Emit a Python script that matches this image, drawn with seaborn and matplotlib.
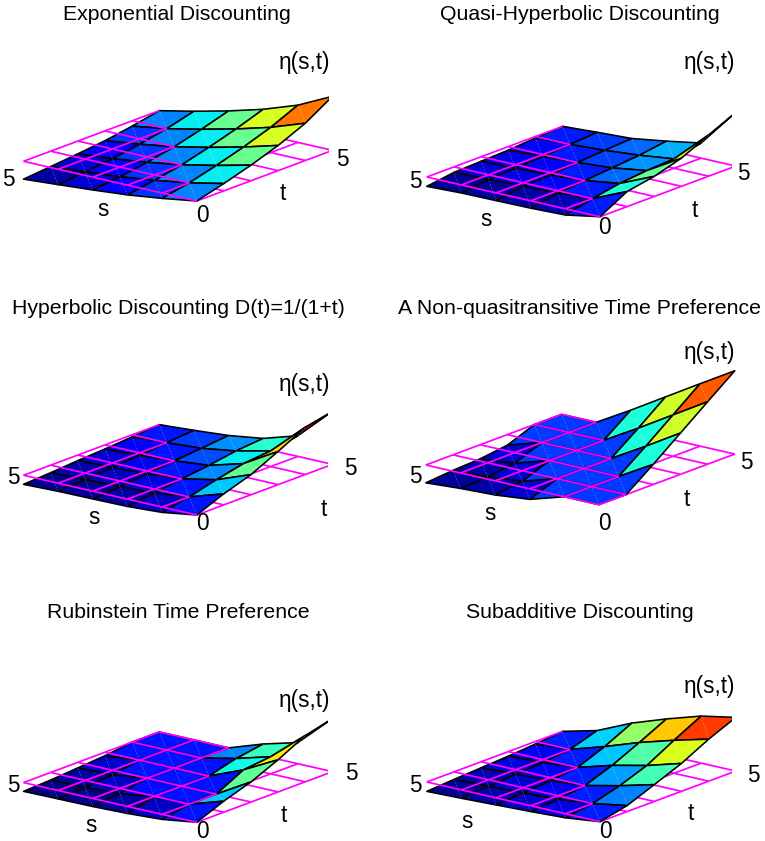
import numpy as np
import seaborn as sns
import matplotlib.pyplot as plt
from matplotlib.colors import Normalize
from mpl_toolkits.mplot3d import proj3d
from mpl_toolkits.mplot3d.art3d import Line3DCollection

sns.set_theme(style='white')
plt.rcParams['font.family'] = ['Liberation Sans', 'DejaVu Sans']

grid_vals = [0, 1, 2, 3, 4, 5]

# rows are s = 0..5, columns are t = 0..5
exponential = [[0, 7.3, 15.5, 25, 37, 53.7],
               [-5.3, 0, 7.3, 15.5, 25, 37],
               [-9.7, -5.3, 0, 7.3, 15.5, 25],
               [-12.7, -9.7, -5.3, 0, 7.3, 15.5],
               [-15.3, -12.7, -9.7, -5.3, 0, 7.3],
               [-17.7, -15.3, -12.7, -9.7, -5.3, 0]]
quasi_hyperbolic = [[0, 15, 20, 28, 41, 53.3],
                    [-6.2, 0, 5, 7.7, 9.3, 15],
                    [-7.3, -2.5, 0, 2.5, 5, 9],
                    [-7.7, -3.5, -2.5, 0, 2, 3.7],
                    [-8, -4.5, -3.5, -2, 0, 2],
                    [-9.3, -5.5, -4.5, -3.5, -1.5, 0]]
hyperbolic = [[0, 11, 20, 33, 47, 52.7],
              [-5.3, 0, 7, 13, 15.5, 20.5],
              [-7.3, -4, 0, 3.3, 7.6, 10],
              [-7.7, -5.5, -3, 0, 2.3, 5],
              [-8, -6.5, -4.5, -2.5, 0, 2.3],
              [-9, -7.5, -5.5, -4, -2, 0]]
non_quasi = [[0, 0, 20, 41, 62, 82.7],
             [0, 0, 0, 20, 41, 62],
             [-10.5, 0, 0, 0, 20, 41],
             [-14, -10.5, 0, 0, 0, 20],
             [-15.4, -14, -10.5, 0, 0, 0],
             [-17.7, -15.4, -14, -10.5, 0, 0]]
rubinstein = [[0, 11, 20, 32, 46, 52.7],
              [-5, 0, 0, 14, 17, 21],
              [-7, -0.5, 0, 0, 7.3, 11.7],
              [-8, -5, 0, 0, 0, 0],
              [-8.3, -7, -4.5, 0, 0, 0],
              [-8.7, -7.5, -5.5, -3.5, 0, 0]]
subadditive = [[0, 6, 16.7, 27.7, 41.7, 53.3],
               [-4, 0, 7.7, 17.7, 32.7, 46.7],
               [-5.7, -3.5, 0, 10, 22.6, 36],
               [-7, -5, -3, 0, 10.7, 24],
               [-8.3, -6.5, -4.5, -3, 0, 8.7],
               [-9.3, -7.5, -6, -4.5, -2.5, 0]]

titles = ['Exponential Discounting', 'Quasi-Hyperbolic Discounting',
          'Hyperbolic Discounting D(t)=1/(1+t)', 'A Non-quasitransitive Time Preference',
          'Rubinstein Time Preference', 'Subadditive Discounting']
surfaces = [exponential, quasi_hyperbolic, hyperbolic, non_quasi, rubinstein, subadditive]
color_tops = [52, 53.3, 52.7, 80, 52.7, 51]

# layout in pixels of the 765x841 picture
W_PX, H_PX = 765, 841
origins = [(196.7, 201), (600, 216.7), (196.7, 515), (599, 504.7), (196.7, 822.3), (600, 821.7)]
title_pos = [(177, 15), (580, 15), (178, 309), (580, 308), (178, 612), (580, 612)]
eta_pos = [(305, 62), (710, 62), (305, 384), (710, 352), (305, 700), (710, 687)]
left5_pos = [(8, 180), (415, 181), (13, 478), (415, 477), (13, 785), (415, 785)]
zero_pos = [(202, 216), (604, 228), (202, 524), (604, 524), (202, 831), (605, 831)]
right5_pos = [(342, 160), (743, 173), (350, 468), (746, 463), (351, 774), (753, 775)]
t_pos = [(283, 193), (695, 211), (324, 510), (687, 499), (284, 815), (691, 814)]
s_pos = [(103, 210), (486, 220), (94, 517), (490, 513), (91, 825), (467, 822)]
TITLE_FONT = 15.3
LABEL_FONT = 16.3

ELEV, AZIM = 17, 218.1
SPAN_PX = 309     # screen width between the s=5 and t=5 corners
UNIT_PX = 43.7

jet = plt.get_cmap('jet')
fig = plt.figure(figsize=(W_PX / 100, H_PX / 100), dpi=100)


def to_view(ax, x, y, z):
    xp, yp, _ = proj3d.proj_transform(x, y, z, ax.get_proj())
    return xp, yp


def place_axes(ax, origin):
    # projected coords scale with the axes size, so one step is enough
    x0, x1 = ax.viewLim.intervalx
    y0, y1 = ax.viewLim.intervaly
    xa, _ = to_view(ax, 0, 5, 0)
    xb, _ = to_view(ax, 5, 0, 0)
    size = SPAN_PX * (x1 - x0) / (xb - xa)
    xo, yo = to_view(ax, 0, 0, 0)
    left = origin[0] - (xo - x0) / (x1 - x0) * size
    bottom = H_PX - origin[1] - (yo - y0) / (y1 - y0) * size
    ax.set_position([left / W_PX, bottom / H_PX, size / W_PX, size / H_PX])


for i, values in enumerate(surfaces):
    Z = np.array(values, dtype=float)
    T, S = np.meshgrid(grid_vals, grid_vals)

    ax = fig.add_axes([0, 0, 0.4, 0.4], projection='3d', proj_type='ortho', computed_zorder=False)
    ax.view_init(elev=ELEV, azim=AZIM)
    ax.set_xlim(0, 5)
    ax.set_ylim(0, 5)
    ax.set_zlim(Z.min(), Z.max())
    ax.set_box_aspect((5, 5, (Z.max() - Z.min()) / (UNIT_PX * np.cos(np.radians(ELEV)))))
    ax.set_axis_off()
    place_axes(ax, origins[i])

    # magenta grid at height 0: over the surface where it dips below, under it elsewhere
    over, under = [], []
    for a in range(6):
        for b in range(5):
            for p, q in [((a, b), (a, b + 1)), ((b, a), (b + 1, a))]:
                seg = [(grid_vals[p[1]], grid_vals[p[0]], 0), (grid_vals[q[1]], grid_vals[q[0]], 0)]
                if Z[p] <= 0 and Z[q] <= 0:
                    over.append(seg)
                else:
                    under.append(seg)
    ax.add_collection3d(Line3DCollection(under, colors='#ff00ff', linewidths=1.25, zorder=1))

    # flat colour per cell comes from its lowest-index corner
    norm = Normalize(Z.min(), color_tops[i])
    surf = ax.plot_surface(T, S, Z, facecolors=jet(norm(Z)), rstride=1, cstride=1,
                           shade=False, linewidth=1.15, antialiased=True, zorder=2)
    surf.set_edgecolor('black')

    # faint seams along the cell diagonals
    seams = [[(grid_vals[b], grid_vals[a], Z[a, b]), (grid_vals[b + 1], grid_vals[a + 1], Z[a + 1, b + 1])]
             for a in range(5) for b in range(5)]
    ax.add_collection3d(Line3DCollection(seams, colors='white', linewidths=0.5, alpha=0.3,
                                         linestyles=(0, (3, 1.5)), zorder=3))
    ax.add_collection3d(Line3DCollection(over, colors='#ff00ff', linewidths=1.25, zorder=4))

    fig.text(title_pos[i][0] / W_PX, 1 - title_pos[i][1] / H_PX, titles[i], ha='center', va='center',
             fontsize=TITLE_FONT, color='black')
    labels = [('η(s,t)', eta_pos[i]), ('5', left5_pos[i]), ('0', zero_pos[i]),
              ('5', right5_pos[i]), ('t', t_pos[i]), ('s', s_pos[i])]
    for txt, (px, py) in labels:
        fig.text(px / W_PX, 1 - py / H_PX, txt, ha='center', va='center', fontsize=LABEL_FONT, color='black')

fig.savefig('out.png', dpi=100)
